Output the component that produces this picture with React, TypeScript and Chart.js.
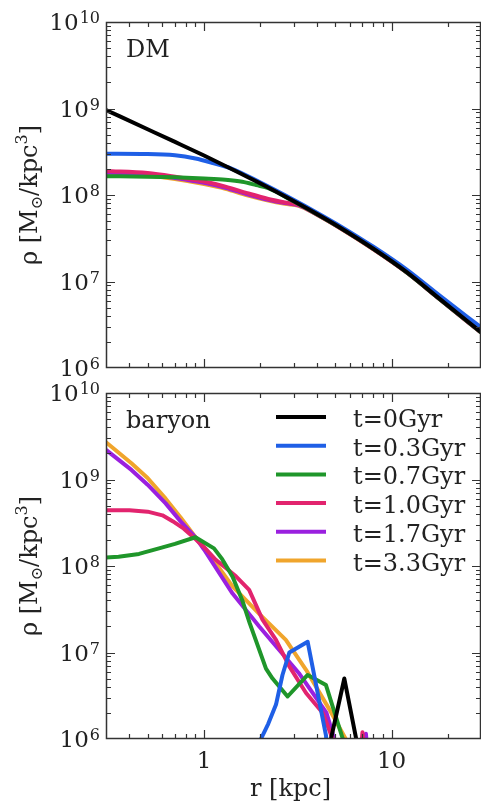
import React, { useEffect, useRef } from 'react';
import { Chart, registerables } from 'chart.js';

Chart.register(...registerables);

type Pt = [number, number];

// ---------- labels & styling ----------
const SERIES_LABELS = ['t=0Gyr', 't=0.3Gyr', 't=0.7Gyr', 't=1.0Gyr', 't=1.7Gyr', 't=3.3Gyr'];
const SERIES_COLORS = ['#000000', '#1f5fe6', '#1f962a', '#e2246e', '#9a20df', '#f0a52c'];
const PANEL_LABELS = ['DM', 'baryon'];

const R_MIN = 0.3;
const R_MAX = 30;
const RHO_MIN = 1e6;
const RHO_MAX = 1e10;
const X_TICK_VALUES = [1, 10];
const X_TICK_LABELS = ['1', '10'];
const Y_TICK_EXPONENTS = [6, 7, 8, 9, 10];
const X_TITLE = 'r [kpc]';

// ---------- dark matter profiles [r (kpc), rho (Msun/kpc^3)] ----------
const DM_T00: Pt[] = [[0.3, 9.6e8], [0.5, 5.76e8], [0.7, 4.11e8], [1, 2.86e8], [1.5, 1.86e8], [2, 1.355e8], [3, 8.5e7], [4, 6.02e7], [5.3, 4.21e7], [8, 2.39e7], [12, 1.29e7], [18, 6.34e6], [30, 2.6e6]];
const DM_T03: Pt[] = [[0.3, 3.0e8], [0.5, 2.98e8], [0.7, 2.88e8], [0.9, 2.64e8], [1.1, 2.36e8], [1.4, 2.02e8], [2, 1.39e8], [3, 8.8e7], [4, 6.25e7], [5.3, 4.4e7], [8, 2.52e7], [12, 1.38e7], [18, 6.9e6], [30, 2.95e6]];
const DM_T07: Pt[] = [[0.3, 1.65e8], [0.5, 1.63e8], [0.7, 1.6e8], [1.0, 1.55e8], [1.3, 1.5e8], [1.6, 1.42e8], [1.9, 1.3e8], [2.2, 1.2e8], [3, 8.45e7], [4, 6.0e7], [5.3, 4.2e7], [8, 2.38e7], [12, 1.285e7], [18, 6.3e6], [30, 2.58e6]];
const DM_T10: Pt[] = [[0.3, 1.9e8], [0.5, 1.8e8], [0.7, 1.63e8], [1.0, 1.43e8], [1.3, 1.25e8], [1.7, 1.05e8], [2.2, 9.0e7], [2.7, 8.2e7], [3.2, 7.7e7], [4, 5.96e7], [5.3, 4.18e7], [8, 2.37e7], [12, 1.28e7], [18, 6.28e6], [30, 2.57e6]];
const DM_T17: Pt[] = [[0.3, 1.82e8], [0.5, 1.73e8], [0.7, 1.57e8], [1.0, 1.38e8], [1.3, 1.21e8], [1.7, 1.02e8], [2.2, 8.8e7], [2.7, 8.05e7], [3.2, 7.6e7], [4, 5.94e7], [5.3, 4.17e7], [8, 2.37e7], [12, 1.28e7], [18, 6.28e6], [30, 2.57e6]];
const DM_T33: Pt[] = [[0.3, 1.76e8], [0.5, 1.68e8], [0.7, 1.53e8], [1.0, 1.34e8], [1.3, 1.18e8], [1.7, 9.9e7], [2.2, 8.6e7], [2.7, 7.9e7], [3.2, 7.5e7], [4, 5.92e7], [5.3, 4.16e7], [8, 2.36e7], [12, 1.28e7], [18, 6.27e6], [30, 2.57e6]];

// ---------- baryon profiles ----------
const BA_T00: Pt[] = [[4.2, 3e5], [5.6, 5e6], [7.5, 2e5]];
const BA_T03: Pt[] = [[1.9, 3e5], [2.01, 1.0e6], [2.2, 1.5e6], [2.42, 2.5e6], [2.62, 5.5e6], [2.85, 1.0e7], [3.57, 1.33e7], [4.47, 1.1e6], [4.6, 5e5]];
const BA_T07: Pt[] = [[0.3, 1.25e8], [0.35, 1.28e8], [0.45, 1.38e8], [0.575, 1.6e8], [0.7, 1.8e8], [0.9, 2.15e8], [1.13, 1.6e8], [1.25, 1.2e8], [1.42, 7.5e7], [1.6, 4.0e7], [1.75, 2.2e7], [2.14, 6.5e6], [2.32, 5.0e6], [2.79, 3.1e6], [3.57, 5.5e6], [4.47, 4.2e6], [5.5, 1.0e6], [5.8, 4e5]];
const BA_T10: Pt[] = [[0.3, 4.4e8], [0.4, 4.4e8], [0.5, 4.25e8], [0.6, 3.85e8], [0.68, 3.3e8], [0.78, 2.7e8], [0.9, 2.05e8], [1.0, 1.65e8], [1.155, 1.18e8], [1.48, 7.6e7], [1.74, 5.3e7], [2.05, 2.4e7], [2.42, 1.4e7], [2.85, 6.9e6], [3.5, 3.4e6], [4.3, 2.0e6], [4.85, 1.0e6], [5.1, 3e5], [6.6, 3e5], [7.0, 1.2e6], [7.4, 3e5]];
const BA_T17: Pt[] = [[0.3, 2.2e9], [0.41, 1.29e9], [0.5, 8.7e8], [0.624, 5.3e8], [0.75, 3.28e8], [0.9, 2.15e8], [1.0, 1.55e8], [1.42, 4.8e7], [1.97, 2.0e7], [3.2, 5.8e6], [4.5, 2.0e6], [4.85, 1.17e6], [5.1, 5e5], [6.8, 4e5], [7.3, 1.15e6], [7.7, 3e5]];
const BA_T33: Pt[] = [[0.3, 2.7e9], [0.41, 1.54e9], [0.5, 1.04e9], [0.624, 6.0e8], [0.75, 3.64e8], [0.9, 2.15e8], [1.0, 1.65e8], [1.42, 5.8e7], [1.97, 2.8e7], [2.73, 1.4e7], [3.5, 6.3e6], [4.66, 2.2e6], [5.7, 1.0e6], [6.2, 4e5]];

const DM_SERIES = [DM_T00, DM_T03, DM_T07, DM_T10, DM_T17, DM_T33];
const BA_SERIES = [BA_T00, BA_T03, BA_T07, BA_T10, BA_T17, BA_T33];

const FONT = '"DejaVu Serif", "Liberation Serif", serif';
const TEXT = '#222222';
const AXIS = '#333333';

function drawFrame(chart: any) {
  const { ctx, chartArea: a, scales } = chart;
  const xs = scales.x;
  const ys = scales.y;
  ctx.save();
  ctx.strokeStyle = AXIS;
  ctx.lineWidth = 1.2;
  ctx.beginPath();
  for (let k = -1; k <= 1; k++) {
    for (let m = 1; m <= 9; m++) {
      const v = m * Math.pow(10, k);
      if (v <= R_MIN * 1.001 || v >= R_MAX * 0.999) continue;
      const px = Math.round(xs.getPixelForValue(v)) + 0.5;
      const len = m === 1 ? 9 : 5;
      ctx.moveTo(px, a.bottom);
      ctx.lineTo(px, a.bottom - len);
      ctx.moveTo(px, a.top);
      ctx.lineTo(px, a.top + len);
    }
  }
  for (let k = 6; k <= 9; k++) {
    for (let m = 1; m <= 9; m++) {
      const v = m * Math.pow(10, k);
      if (v <= RHO_MIN * 1.001 || v >= RHO_MAX * 0.999) continue;
      const py = Math.round(ys.getPixelForValue(v)) + 0.5;
      const len = m === 1 ? 9 : 5;
      ctx.moveTo(a.left, py);
      ctx.lineTo(a.left + len, py);
      ctx.moveTo(a.right, py);
      ctx.lineTo(a.right - len, py);
    }
  }
  ctx.stroke();
  ctx.lineWidth = 1.5;
  ctx.strokeRect(a.left + 0.5, a.top + 0.5, a.right - a.left - 1, a.bottom - a.top - 1);
  ctx.restore();
}

function drawYTitle(ctx: CanvasRenderingContext2D, x: number, cy: number) {
  const pieces: { t: string; size: number; dy: number }[] = [
    { t: 'ρ [M', size: 24, dy: 0 },
    { t: '⊙', size: 16, dy: 5 },
    { t: '/kpc', size: 24, dy: 0 },
    { t: '3', size: 16, dy: -10 },
    { t: ']', size: 24, dy: 0 },
  ];
  ctx.save();
  ctx.translate(x, cy);
  ctx.rotate(-Math.PI / 2);
  let total = 0;
  const widths = pieces.map((p) => {
    ctx.font = `${p.size}px ${FONT}`;
    const w = ctx.measureText(p.t).width;
    total += w;
    return w;
  });
  let cx = -total / 2;
  ctx.textAlign = 'left';
  ctx.textBaseline = 'alphabetic';
  ctx.fillStyle = TEXT;
  pieces.forEach((p, i) => {
    ctx.font = `${p.size}px ${FONT}`;
    ctx.fillText(p.t, cx, p.dy);
    cx += widths[i];
  });
  ctx.restore();
}

function drawTexts(chart: any, cfg: { panelLabel: string; showXLabels: boolean; showLegend: boolean }) {
  const { ctx, chartArea: a, scales } = chart;
  ctx.save();
  ctx.fillStyle = TEXT;
  ctx.textBaseline = 'alphabetic';
  ctx.textAlign = 'left';

  // y tick labels 10^n
  for (const e of Y_TICK_EXPONENTS) {
    const py = scales.y.getPixelForValue(Math.pow(10, e));
    const es = String(e);
    ctx.font = `16px ${FONT}`;
    const ew = ctx.measureText(es).width;
    ctx.font = `23px ${FONT}`;
    const bw = ctx.measureText('10').width;
    const right = a.left - 6;
    ctx.fillText('10', right - ew - bw - 1, py + 8);
    ctx.font = `16px ${FONT}`;
    ctx.fillText(es, right - ew, py + 1);
  }

  // y title
  drawYTitle(ctx, 37, (a.top + a.bottom) / 2);

  // panel label
  ctx.font = `24px ${FONT}`;
  ctx.textAlign = 'left';
  ctx.fillText(cfg.panelLabel, a.left + 20, a.top + 35);

  if (cfg.showXLabels) {
    ctx.font = `23px ${FONT}`;
    ctx.textAlign = 'center';
    X_TICK_VALUES.forEach((v, i) => {
      ctx.fillText(X_TICK_LABELS[i], scales.x.getPixelForValue(v), a.bottom + 29);
    });
    ctx.font = `24px ${FONT}`;
    ctx.fillText(X_TITLE, (a.left + a.right) / 2 - 3, a.bottom + 57);
  }

  if (cfg.showLegend) {
    SERIES_LABELS.forEach((lab, i) => {
      const y = a.top + 24 + i * 28.7;
      ctx.strokeStyle = SERIES_COLORS[i];
      ctx.lineWidth = 4;
      ctx.beginPath();
      ctx.moveTo(a.left + 170, y);
      ctx.lineTo(a.left + 220, y);
      ctx.stroke();
      ctx.font = `24px ${FONT}`;
      ctx.textAlign = 'left';
      ctx.fillStyle = TEXT;
      ctx.fillText(lab, a.left + 247, y + 10);
    });
  }
  ctx.restore();
}

function buildDatasets(series: Pt[][], smooth: boolean) {
  return series.map((pts, i) => ({
    label: SERIES_LABELS[i],
    data: pts.map(([x, y]) => ({ x, y })),
    borderColor: SERIES_COLORS[i],
    backgroundColor: SERIES_COLORS[i],
    borderWidth: 4,
    pointRadius: 0,
    pointHoverRadius: 0,
    fill: false,
    clip: 0,
    tension: 0,
    cubicInterpolationMode: smooth ? 'monotone' : 'default',
    borderJoinStyle: 'round',
  }));
}

type PanelProps = {
  series: Pt[][];
  smooth: boolean;
  top: number;
  height: number;
  padTop: number;
  padBottom: number;
  panelLabel: string;
  showXLabels: boolean;
  showLegend: boolean;
};

function Panel(props: PanelProps) {
  const ref = useRef<HTMLCanvasElement | null>(null);
  useEffect(() => {
    const canvas = ref.current;
    if (!canvas) return;
    const cfg = { panelLabel: props.panelLabel, showXLabels: props.showXLabels, showLegend: props.showLegend };
    const chart = new Chart(canvas, {
      type: 'line',
      data: { datasets: buildDatasets(props.series, props.smooth) as any },
      options: {
        animation: false,
        responsive: false,
        maintainAspectRatio: false,
        events: [],
        layout: { padding: { left: 106, right: 0, top: props.padTop, bottom: props.padBottom } },
        scales: {
          x: { type: 'logarithmic', min: R_MIN, max: R_MAX, display: false },
          y: { type: 'logarithmic', min: RHO_MIN, max: RHO_MAX, display: false },
        },
        plugins: { legend: { display: false }, tooltip: { enabled: false } },
      },
      plugins: [
        {
          id: 'frameAndText',
          afterDatasetsDraw(c: any) {
            drawFrame(c);
          },
          afterDraw(c: any) {
            drawTexts(c, cfg);
          },
        },
      ],
    } as any);
    return () => chart.destroy();
  }, []);
  return (
    <canvas
      ref={ref}
      width={481}
      height={props.height}
      style={{ position: 'absolute', left: 0, top: props.top, width: 481, height: props.height }}
    />
  );
}

export default function App() {
  return (
    <div style={{ position: 'absolute', left: 0, top: 0, width: 481, height: 808, background: '#ffffff', overflow: 'hidden' }}>
      <Panel series={DM_SERIES} smooth={true} top={0} height={380} padTop={22} padBottom={12} panelLabel={PANEL_LABELS[0]} showXLabels={false} showLegend={false} />
      <Panel series={BA_SERIES} smooth={false} top={380} height={428} padTop={13} padBottom={69} panelLabel={PANEL_LABELS[1]} showXLabels={true} showLegend={true} />
    </div>
  );
}
